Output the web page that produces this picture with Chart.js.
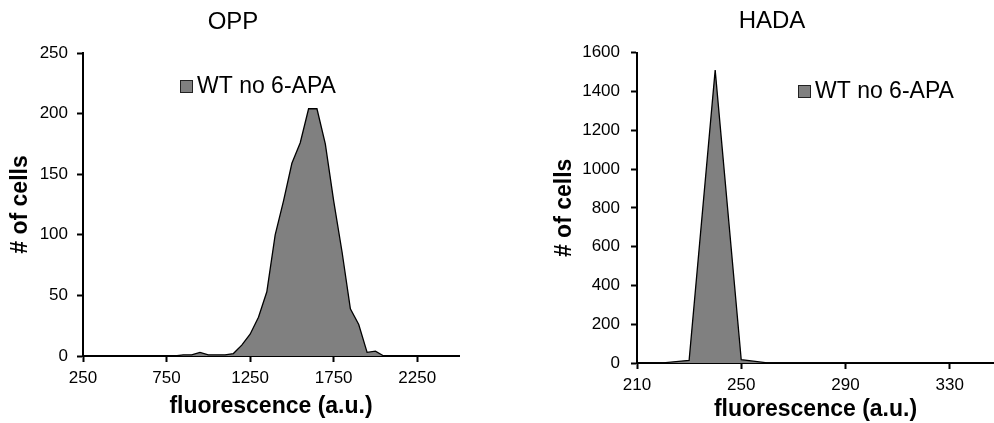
<!DOCTYPE html>
<html>
<head>
<meta charset="utf-8">
<script src="https://cdn.jsdelivr.net/npm/chart.js@4.4.1/dist/chart.umd.min.js"></script>
<style>
  body { margin: 0; background: #fff; width: 994px; height: 423px; position: relative; overflow: hidden; }
  #oppBox { position: absolute; left: 0; top: 0; width: 466px; height: 423px; }
  #hadaBox { position: absolute; left: 550px; top: 0; width: 444px; height: 423px; }
</style>
</head>
<body>
<div id="oppBox"><canvas id="oppChart"></canvas></div>
<div id="hadaBox"><canvas id="hadaChart"></canvas></div>
<script>
const seriesName = 'WT no 6-APA';

// OPP histogram (bin centre -> number of cells)
const oppBins   = [250, 800, 850, 900, 950, 1000, 1050, 1100, 1150, 1200, 1250, 1300, 1350, 1400, 1450,
                   1500, 1550, 1600, 1650, 1700, 1750, 1800, 1850, 1900, 1950, 2000, 2050, 2500];
const oppCounts = [0, 0, 1, 1, 3, 1, 1, 1, 2, 9, 18, 32, 53, 100, 128,
                   159, 176, 204, 204, 175, 128, 86, 39, 26, 3, 4, 0, 0];
const oppTicks  = [250, 750, 1250, 1750, 2250];

// HADA histogram
const hadaBins   = [210, 220, 230, 240, 250, 260, 350];
const hadaCounts = [0, 1, 14, 1510, 17, 1, 0];
const hadaTicks  = [210, 250, 290, 330];

const FONT = '"Liberation Sans", Arial, sans-serif';
const plain = v => String(v);

// small boxed legend drawn inside the plot area
const boxLegend = {
  id: 'boxLegend',
  afterDraw(chart, args, opts) {
    const ctx = chart.ctx;
    const ds = chart.data.datasets[0];
    ctx.save();
    ctx.fillStyle = ds.backgroundColor;
    ctx.fillRect(opts.x, opts.y, 13, 13);
    ctx.strokeStyle = '#222';
    ctx.lineWidth = 1;
    ctx.strokeRect(opts.x + 0.5, opts.y + 0.5, 12, 12);
    ctx.fillStyle = '#000';
    ctx.font = '23px ' + FONT;
    ctx.textBaseline = 'middle';
    ctx.fillText(ds.label, opts.x + 17, opts.y + 7);
    ctx.restore();
  }
};

function histogram(id, cfg) {
  new Chart(document.getElementById(id), {
    type: 'line',
    data: {
      datasets: [{
        label: seriesName,
        data: cfg.bins.map((b, i) => ({ x: b, y: cfg.counts[i] })),
        backgroundColor: '#808080',
        borderColor: '#000',
        borderWidth: 1.3,
        pointRadius: 0,
        tension: 0,
        fill: 'origin'
      }]
    },
    options: {
      responsive: true,
      maintainAspectRatio: false,
      animation: false,
      layout: { padding: cfg.padding },
      plugins: {
        legend: { display: false },
        tooltip: { enabled: false },
        title: {
          display: true,
          text: cfg.title,
          color: '#000',
          font: { family: FONT, size: 24, weight: 'normal' },
          padding: cfg.titlePad
        },
        boxLegend: cfg.legend
      },
      scales: {
        x: {
          type: 'linear',
          min: cfg.xMin,
          max: cfg.xMax,
          afterBuildTicks(scale) { scale.ticks = cfg.ticks.map(v => ({ value: v })); },
          afterFit(scale) { scale.height = cfg.xHeight; },
          ticks: { callback: plain, color: '#000', font: { family: FONT, size: 17 }, padding: 6, maxRotation: 0, autoSkip: false },
          grid: { drawOnChartArea: false, drawTicks: true, tickLength: 6, tickWidth: 2, tickColor: '#000' },
          border: { color: '#000', width: 2 },
          title: {
            display: true,
            text: 'fluorescence (a.u.)',
            color: '#000',
            font: { family: FONT, size: 23, weight: 'bold' },
            padding: { top: 0, bottom: cfg.xTitlePad }
          }
        },
        y: {
          min: 0,
          max: cfg.yMax,
          afterFit(scale) { scale.width = cfg.yWidth; },
          ticks: { callback: plain, stepSize: cfg.yStep, color: '#000', font: { family: FONT, size: 17 }, padding: cfg.yTickPad },
          grid: { drawOnChartArea: false, drawTicks: true, tickLength: 6, tickWidth: 2, tickColor: '#000' },
          border: { color: '#000', width: 2 },
          title: {
            display: true,
            text: '# of cells',
            color: '#000',
            font: { family: FONT, size: 23, weight: 'bold' },
            padding: { top: cfg.yTitlePad, bottom: 0 }
          }
        }
      }
    },
    plugins: [boxLegend]
  });
}

histogram('oppChart', {
  title: 'OPP',
  bins: oppBins, counts: oppCounts, ticks: oppTicks,
  xMin: 250, xMax: 2500, yMax: 250, yStep: 50,
  padding: { left: 7, right: 7, top: 0, bottom: 0 },
  titlePad: { top: 8, bottom: 16.2 },
  yWidth: 76, xHeight: 67, xTitlePad: 3, yTitlePad: 0, yTickPad: 9,
  legend: { x: 180, y: 80 }
});

histogram('hadaChart', {
  title: 'HADA',
  bins: hadaBins, counts: hadaCounts, ticks: hadaTicks,
  xMin: 210, xMax: 347, yMax: 1600, yStep: 200,
  padding: { left: 0, right: 0, top: 0, bottom: 0 },
  titlePad: { top: 7, bottom: 16.9 },
  yWidth: 87, xHeight: 60, xTitlePad: 0, yTitlePad: 1, yTickPad: 11,
  legend: { x: 248, y: 85 }
});
</script>
</body>
</html>
